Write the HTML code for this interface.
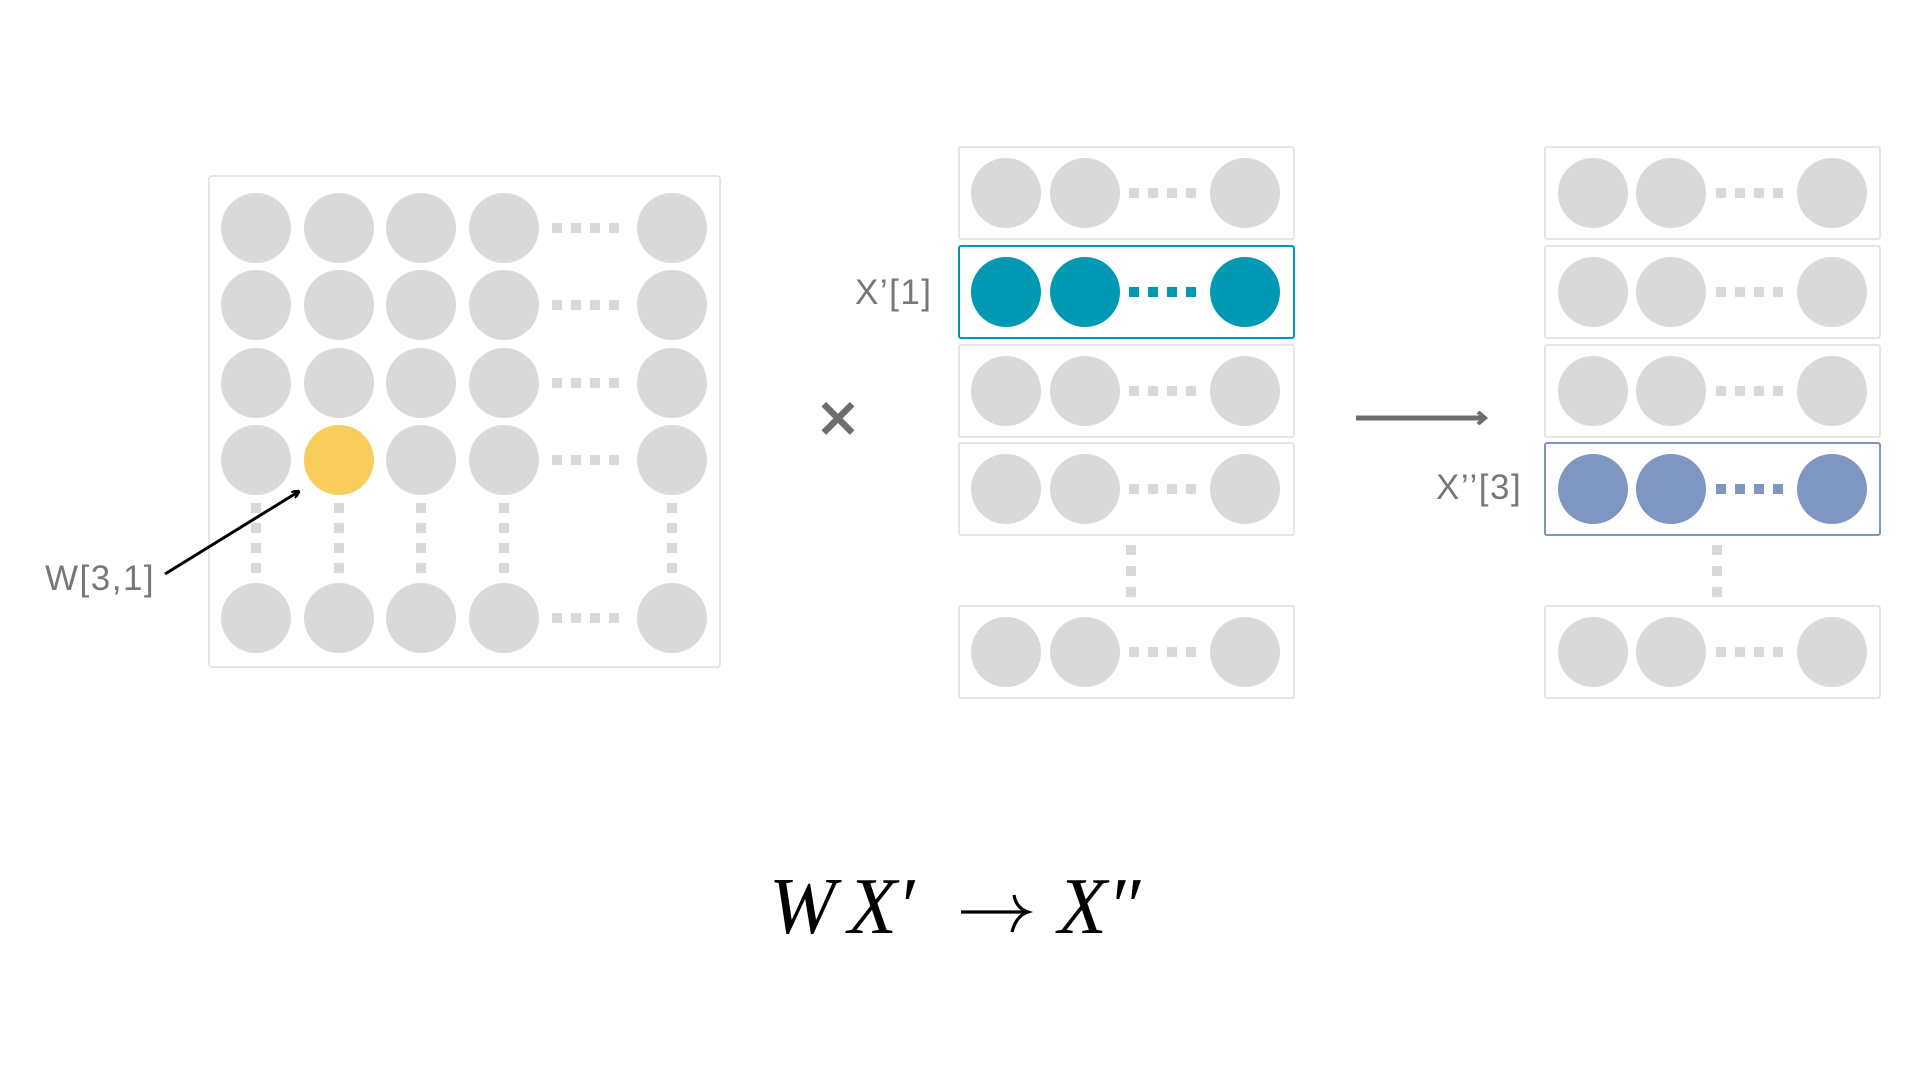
<!DOCTYPE html>
<html><head><meta charset="utf-8"><style>
html,body{margin:0;padding:0;background:#fff;width:1920px;height:1080px;overflow:hidden}
svg{display:block}
.lbl{font-family:"Liberation Sans",sans-serif;fill:#777;font-size:35px;letter-spacing:1.5px}
.fm{font-family:"Liberation Serif",serif;font-size:80px;font-style:italic;fill:#000}
</style></head><body>
<svg id="s" width="1920" height="1080" viewBox="0 0 1920 1080">
<defs><marker id="ah" markerWidth="8" markerHeight="8" refX="6" refY="4" orient="auto" markerUnits="userSpaceOnUse"><path d="M0,0 L8,4 L0,8" fill="none" stroke="#000" stroke-width="2.5"/></marker>
<marker id="ah2" markerWidth="14" markerHeight="14" refX="9" refY="7" orient="auto" markerUnits="userSpaceOnUse"><path d="M3,1 L10,7 L3,13" fill="none" stroke="#6e6e6e" stroke-width="4"/></marker></defs>
<rect x="209" y="176" width="511" height="491" rx="3" fill="#fff" stroke="#ddd" stroke-width="1.5"/>
<g id="wm"></g>
<line x1="165" y1="574" x2="298" y2="492" stroke="#000" stroke-width="3" marker-end="url(#ah)"/>
<text class="lbl" x="45" y="590">W[3,1]</text>
<text x="838" y="436" text-anchor="middle" font-family="DejaVu Sans,sans-serif" font-size="56" fill="#6e6e6e" font-weight="bold">×</text>
<g id="xp"></g>
<g id="xpp"></g>
<text class="lbl" x="855" y="304">X’[1]</text>
<text class="lbl" x="1436" y="499">X’’[3]</text>
<line x1="1356" y1="418" x2="1484" y2="418" stroke="#6e6e6e" stroke-width="5" marker-end="url(#ah2)"/>
<g>
<text class="fm" x="769" y="933" textLength="72">W</text>
<text class="fm" x="848" y="933">X′</text>
<path d="M961,912 L1027,912 M1014,895 Q1016,908 1028,912 Q1016,916 1012,932" fill="none" stroke="#000" stroke-width="3.2"/>
<text class="fm" x="1058" y="933">X″</text>
</g>
</svg>
<script>
const NS="http://www.w3.org/2000/svg";
const wCols=[256,339,421,504,672];
const wRows=[228,305,383,460,618];
const highlight=[3,1];
function el(t,a,p){const e=document.createElementNS(NS,t);for(const k in a)e.setAttribute(k,a[k]);p.appendChild(e);return e;}
const wm=document.getElementById('wm');
const R=35, G='#d9d9d9';
wRows.forEach((y,ri)=>{wCols.forEach((x,ci)=>{
 const hl=ri===highlight[0]&&ci===highlight[1];
 const c=el('circle',{cx:x,cy:y,r:R,fill:hl?'#F9CD5B':G},wm);
 
 
});
 for(let k=0;k<4;k++){const d=el('rect',{x:557+k*19-5,y:y-5,width:10,height:10,fill:G},wm);
 
 }
});
wCols.forEach(x=>{for(let k=0;k<4;k++){const d=el('rect',{x:x-5,y:503+k*20,width:10,height:10,fill:G},wm);
 
 }});
const vRows=[147,246,345,443,606];
function vecCol(gid,bx,cxs,dx,hi,col,name){
 const g=document.getElementById(gid);
 vRows.forEach((y,i)=>{
  const h=i===hi;
  const b=el('rect',{x:bx,y:y,width:335,height:92,rx:2,fill:'#fff',stroke:h?col:'#ddd','stroke-width':h?2:1.5},g);
  
  
  const cy=y+46, f=h?col:G;
  cxs.forEach(x=>{const c=el('circle',{cx:x,cy:cy,r:R,fill:f},g);
   
   });
  for(let k=0;k<4;k++){const d=el('rect',{x:dx+k*19-5,y:cy-5,width:10,height:10,fill:f},g);
   
   }
 });
 const vx=cxs[1]+46;
 for(let k=0;k<3;k++){const d=el('rect',{x:vx-5,y:545+k*21,width:10,height:10,fill:G},g);
  
  }
}
vecCol('xp',959,[1006,1085,1245],1134,1,'#0099B4','x-prime');
vecCol('xpp',1545,[1593,1671,1832],1721,3,'#7F96C2','x-double-prime');
</script>
</body></html>
